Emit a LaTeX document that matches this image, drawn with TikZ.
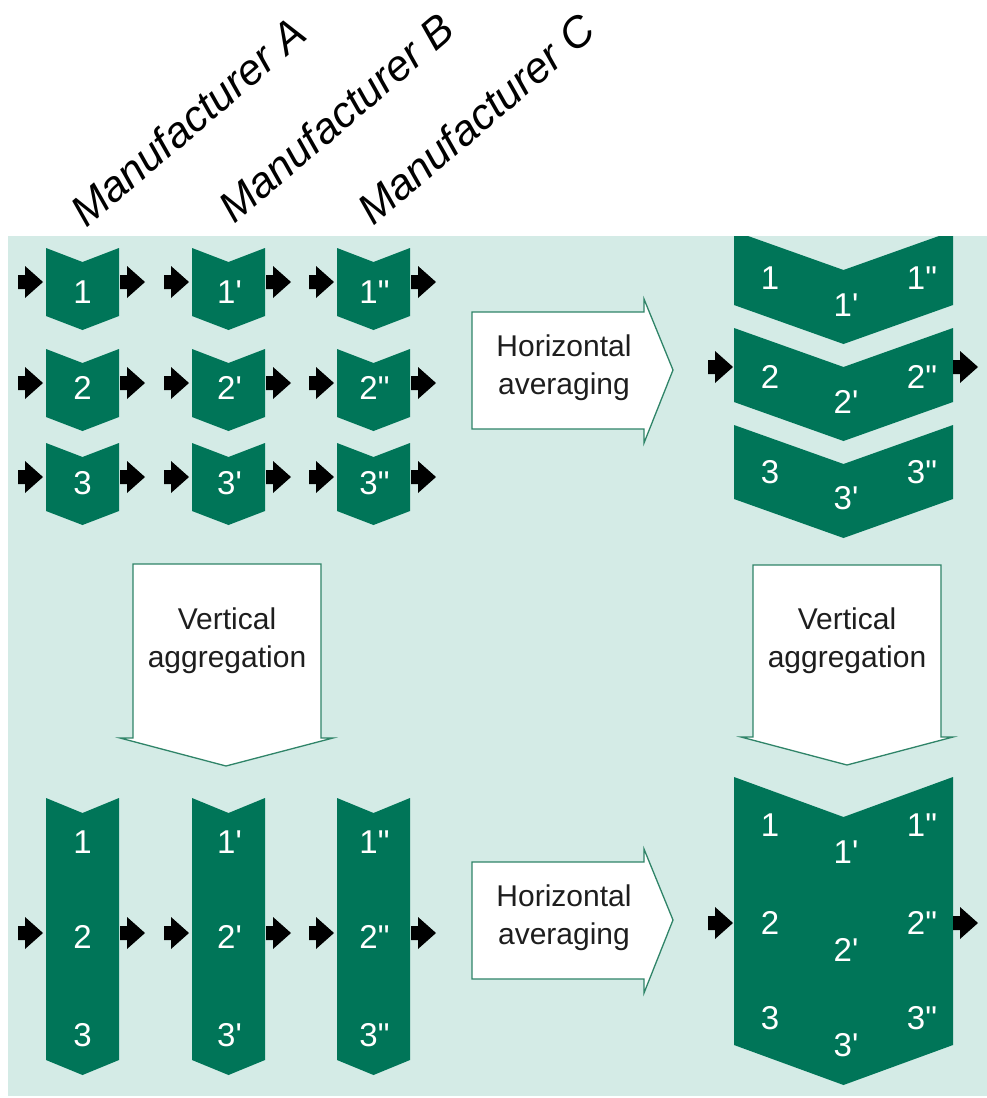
\documentclass[tikz,border=0pt]{standalone}
\usepackage{fontspec}
\setmainfont{Liberation Sans}[Ligatures=TeXOff]
\definecolor{bgteal}{HTML}{D4EBE6}
\definecolor{chevgreen}{HTML}{007558}
\definecolor{edgegreen}{HTML}{2F8468}
\definecolor{lbltext}{HTML}{1E1E1E}
\newcommand\chevshape[5]{%
  \fill[chevgreen] (#1,#3) -- ({(#1+#2)/2},{#3+#5}) -- (#2,#3) -- (#2,#4) -- ({(#1+#2)/2},{#4+#5}) -- (#1,#4) -- cycle;}
\newcommand\blkarrow[2]{%
  \fill[black] (#1,#2) ++(0,-7) -- ++(7,0) -- ++(0,-9) -- ++(18,16) -- ++(-18,16) -- ++(0,-9) -- ++(-7,0) -- cycle;}
\begin{document}
\begin{tikzpicture}[x=1pt,y=-1pt,
  num/.style={text=white, font=\fontsize{33}{36}\selectfont, inner sep=0pt},
  lbl/.style={text=lbltext, font=\fontsize{30}{38}\selectfont, align=center, inner sep=0pt},
  bigarrow/.style={fill=white, draw=edgegreen, line width=1.3pt, line join=miter},
  hdr/.style={font=\fontsize{43}{50}\selectfont\itshape, anchor=base west, rotate=40.5, inner sep=0pt}]
\useasboundingbox (0,0) rectangle (987,1098);
\fill[bgteal] (8,236) rectangle (987,1096);

% headers
\node[hdr] (hA) at (86,229) {Manufacturer A};
\node[hdr] (hB) at (234,225) {Manufacturer B};
\node[hdr] (hC) at (373,227) {Manufacturer C};

\begin{scope}
\clip (8,236) rectangle (987,1096);
% top-left small chevrons
\chevshape{46}{119}{248}{316}{14}
\chevshape{192}{265}{248}{316}{14}
\chevshape{337}{410}{248}{316}{14}
\chevshape{46}{119}{349}{417}{14}
\chevshape{192}{265}{349}{417}{14}
\chevshape{337}{410}{349}{417}{14}
\chevshape{46}{119}{443}{511}{14}
\chevshape{192}{265}{443}{511}{14}
\chevshape{337}{410}{443}{511}{14}
% top-right wide chevrons
\chevshape{734}{953}{231}{305}{39}
\chevshape{734}{953}{328}{402}{39}
\chevshape{734}{953}{425}{499}{39}
% bottom-left tall chevrons
\chevshape{46}{119}{798}{1060}{15}
\chevshape{192}{265}{798}{1060}{15}
\chevshape{337}{410}{798}{1060}{15}
% bottom-right big chevron
\chevshape{734}{953}{777}{1045}{40}
\end{scope}

% small black arrows, top-left grid
\foreach \yy in {282,383,477}{
  \blkarrow{18}{\yy}\blkarrow{120}{\yy}
  \blkarrow{164}{\yy}\blkarrow{266}{\yy}
  \blkarrow{309}{\yy}\blkarrow{411}{\yy}}
% bottom-left arrows
\blkarrow{18}{933}\blkarrow{120}{933}
\blkarrow{164}{933}\blkarrow{266}{933}
\blkarrow{309}{933}\blkarrow{411}{933}
% right-side arrows
\blkarrow{708}{367}\blkarrow{953}{367}
\blkarrow{708}{923}\blkarrow{953}{923}

% labels in top-left chevrons
\node[num] (t1a) at (82.5,292) {1};
\node[num] (t1b) at (229.5,292) {1'};
\node[num] (t1c) at (374.5,292) {1"};
\node[num] (t2a) at (82.5,388) {2};
\node[num] (t2b) at (229.5,388) {2'};
\node[num] (t2c) at (374.5,388) {2"};
\node[num] (t3a) at (82.5,483) {3};
\node[num] (t3b) at (229.5,483) {3'};
\node[num] (t3c) at (374.5,483) {3"};

% top-right labels
\node[num] (r1a) at (770,278) {1};
\node[num] (r1b) at (846,305) {1'};
\node[num] (r1c) at (922,278) {1"};
\node[num] (r2a) at (770,377) {2};
\node[num] (r2b) at (846,402) {2'};
\node[num] (r2c) at (922,377) {2"};
\node[num] (r3a) at (770,472) {3};
\node[num] (r3b) at (846,498) {3'};
\node[num] (r3c) at (922,472) {3"};

% bottom-left labels
\node[num] (b1a) at (82.5,842) {1};
\node[num] (b2a) at (82.5,937) {2};
\node[num] (b3a) at (82.5,1035) {3};
\node[num] (b1b) at (229.5,842) {1'};
\node[num] (b2b) at (229.5,937) {2'};
\node[num] (b3b) at (229.5,1035) {3'};
\node[num] (b1c) at (374.5,842) {1"};
\node[num] (b2c) at (374.5,937) {2"};
\node[num] (b3c) at (374.5,1035) {3"};

% bottom-right labels
\node[num] (s1a) at (770,825) {1};
\node[num] (s1b) at (846,852) {1'};
\node[num] (s1c) at (922,825) {1"};
\node[num] (s2a) at (770,923) {2};
\node[num] (s2b) at (846,950) {2'};
\node[num] (s2c) at (922,923) {2"};
\node[num] (s3a) at (770,1018) {3};
\node[num] (s3b) at (846,1045) {3'};
\node[num] (s3c) at (922,1018) {3"};

% big white arrows
\draw[bigarrow] (472,312) -- (644,312) -- (644,299) -- (673,370) -- (644,443) -- (644,429) -- (472,429) -- cycle;
\node[lbl] (ha1) at (564,368) {Horizontal\\averaging};
\draw[bigarrow] (472,862) -- (644,862) -- (644,849) -- (673,920) -- (644,993) -- (644,979) -- (472,979) -- cycle;
\node[lbl] (ha2) at (564,918) {Horizontal\\averaging};
\draw[bigarrow] (133,564) -- (321,564) -- (321,738) -- (333,738) -- (226,766) -- (120,738) -- (133,738) -- cycle;
\node[lbl] (va1) at (227,641) {Vertical\\aggregation};
\draw[bigarrow] (753,565) -- (941,565) -- (941,737) -- (953,737) -- (847,765) -- (741,737) -- (753,737) -- cycle;
\node[lbl] (va2) at (847,641) {Vertical\\aggregation};
\end{tikzpicture}
\end{document}
